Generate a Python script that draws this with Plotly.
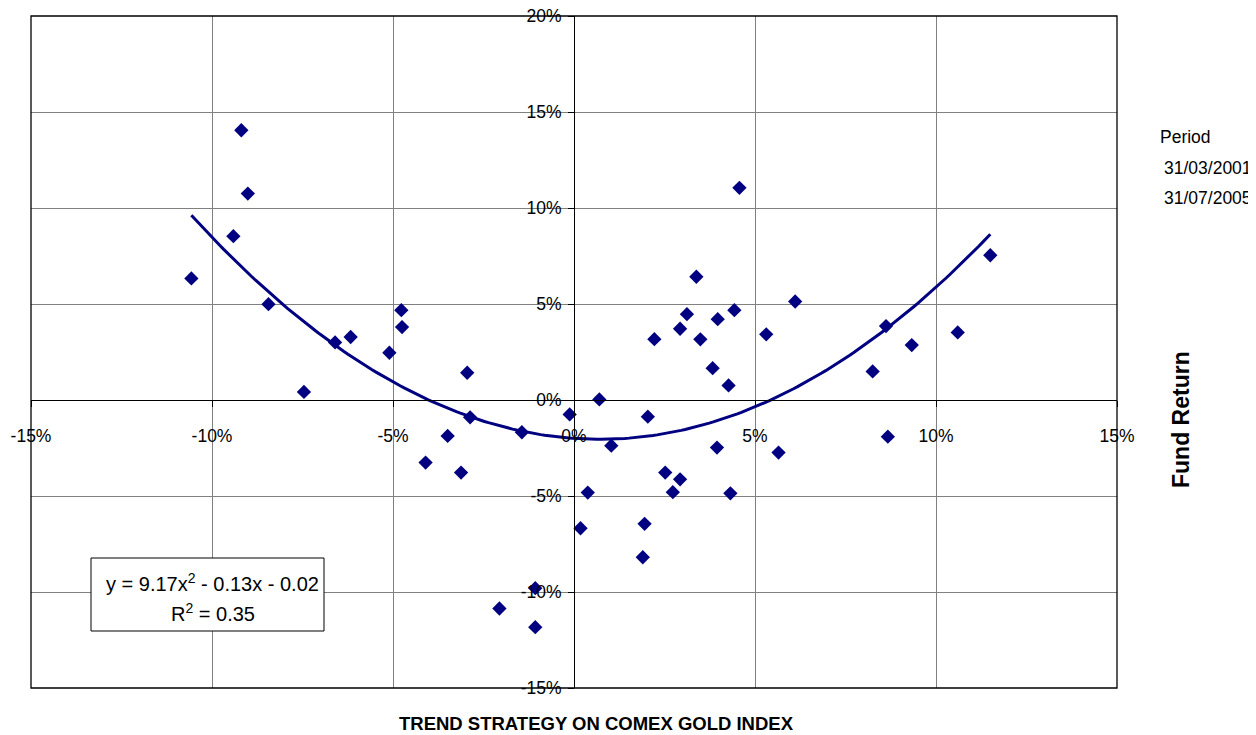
import plotly.graph_objects as go
import numpy as np

# Monthly returns (fractions): x = trend strategy on COMEX gold index, y = fund return
index_ret = [-0.1057, -0.0941, -0.0919, -0.0901, -0.0844, -0.0746, -0.0660, -0.0617,
             -0.0510, -0.0477, -0.0475, -0.0410, -0.0349, -0.0312, -0.0295, -0.0287,
             -0.0206, -0.0144, -0.0107, -0.0107, -0.0012, 0.0018, 0.0038, 0.0070,
             0.0103, 0.0190, 0.0195, 0.0204, 0.0222, 0.0252, 0.0273, 0.0293,
             0.0293, 0.0312, 0.0338, 0.0349, 0.0383, 0.0395, 0.0397, 0.0427,
             0.0432, 0.0443, 0.0457, 0.0531, 0.0565, 0.0611, 0.0825, 0.0862,
             0.0867, 0.0933, 0.1060, 0.1150]
fund_ret = [0.0633, 0.0853, 0.1405, 0.1075, 0.0499, 0.0042, 0.0300, 0.0328,
            0.0246, 0.0468, 0.0380, -0.0326, -0.0187, -0.0378, 0.0142, -0.0090,
            -0.1086, -0.0168, -0.0980, -0.1183, -0.0075, -0.0668, -0.0482, 0.0003,
            -0.0238, -0.0819, -0.0645, -0.0087, 0.0317, -0.0378, -0.0480, 0.0371,
            -0.0413, 0.0447, 0.0642, 0.0316, 0.0166, -0.0248, 0.0421, 0.0076,
            -0.0486, 0.0468, 0.1105, 0.0342, -0.0274, 0.0513, 0.0149, 0.0385,
            -0.0191, 0.0286, 0.0352, 0.0754]

# Polynomial trendline coefficients as displayed (a x^2 + b x + c)
trend_coef = [9.17, -0.13, -0.02]

x_ticks = [-0.15, -0.10, -0.05, 0.0, 0.05, 0.10, 0.15]
x_tick_labels = ["-15%", "-10%", "-5%", "0%", "5%", "10%", "15%"]
y_ticks = [-0.15, -0.10, -0.05, 0.0, 0.05, 0.10, 0.15, 0.20]
y_tick_labels = ["-15%", "-10%", "-5%", "0%", "5%", "10%", "15%", "20%"]

NAVY = "#000080"
FONT = "Arial, Liberation Sans, sans-serif"

xs = np.linspace(min(index_ret), max(index_ret), 200)
ys = np.polyval(trend_coef, xs)

fig = go.Figure()
fig.add_trace(go.Scatter(x=index_ret, y=fund_ret, mode="markers",
                         marker=dict(symbol="diamond", size=11, color=NAVY),
                         showlegend=False, hoverinfo="x+y"))
fig.add_trace(go.Scatter(x=xs, y=ys, mode="lines",
                         line=dict(color=NAVY, width=3),
                         showlegend=False, hoverinfo="skip"))

xr = [-0.15, 0.15]
yr = [-0.15, 0.20]

# page body has an 8px default margin, so the figure is sized to fit the window
fig.update_layout(
    width=1248, height=727,
    margin=dict(l=23, r=139, t=8, b=47, autoexpand=False),
    paper_bgcolor="white", plot_bgcolor="white",
    font=dict(family=FONT, size=17, color="black"),
    xaxis=dict(range=xr, tickvals=x_ticks, ticktext=x_tick_labels, automargin=False,
               showgrid=True, gridcolor="#808080", gridwidth=1,
               zeroline=True, zerolinecolor="black", zerolinewidth=1,
               showline=True, linecolor="black", linewidth=1,
               ticks="outside", ticklen=6, tickcolor="black",
               anchor="free", position=(0 - yr[0]) / (yr[1] - yr[0]),
               ticklabelstandoff=14, ticklabeloverflow="allow",
               tickfont=dict(size=17.5, family=FONT)),
    yaxis=dict(range=yr, tickvals=y_ticks, ticktext=y_tick_labels, automargin=False,
               showgrid=True, gridcolor="#808080", gridwidth=1,
               zeroline=True, zerolinecolor="black", zerolinewidth=1,
               showline=True, linecolor="black", linewidth=1,
               ticks="outside", ticklen=6, tickcolor="black",
               anchor="free", position=(0 - xr[0]) / (xr[1] - xr[0]),
               ticklabelstandoff=3, ticklabeloverflow="allow",
               tickfont=dict(size=17.5, family=FONT)),
)

# plot border
fig.add_shape(type="rect", xref="x domain", yref="y domain", x0=0, x1=1, y0=0, y1=1,
              line=dict(color="black", width=1.3), layer="above")


def px_x(p):
    return (p - 31) / 1086


def px_y(p):
    return (688 - p) / 672


# equation box
fig.add_shape(type="rect", xref="paper", yref="paper",
              x0=px_x(91), x1=px_x(324), y0=px_y(631), y1=px_y(558),
              line=dict(color="black", width=1), fillcolor="white", layer="above")

annots = [
    dict(text="y = 9.17x<sup>2</sup> - 0.13x - 0.02", x=px_x(212), y=px_y(582),
         xanchor="center", yanchor="middle", font=dict(size=20)),
    dict(text="R<sup>2</sup> = 0.35", x=px_x(213), y=px_y(612),
         xanchor="center", yanchor="middle", font=dict(size=20)),
    dict(text="<b>TREND STRATEGY ON COMEX GOLD INDEX</b>", x=px_x(596), y=px_y(723),
         xanchor="center", yanchor="middle", font=dict(size=18.5)),
    dict(text="<b>Fund Return</b>", x=px_x(1181), y=px_y(420), textangle=-90,
         xanchor="center", yanchor="middle", font=dict(size=23)),
    dict(text="Period", x=px_x(1158), y=px_y(137), xanchor="left", yanchor="middle",
         font=dict(size=17.5)),
    dict(text="31/03/2001", x=px_x(1162), y=px_y(168), xanchor="left", yanchor="middle",
         font=dict(size=17.5)),
    dict(text="31/07/2005", x=px_x(1162), y=px_y(198), xanchor="left", yanchor="middle",
         font=dict(size=17.5)),
]
for a in annots:
    a.update(xref="paper", yref="paper", showarrow=False)
    fig.add_annotation(**a)

fig.write_html("out.html")
